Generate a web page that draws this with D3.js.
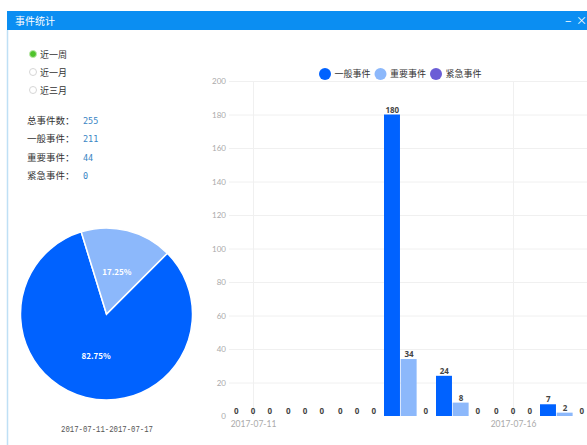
<!DOCTYPE html>
<html lang="zh-CN">
<head>
<meta charset="UTF-8">
<script src="https://d3js.org/d3.v7.min.js"></script>
<style>
  body { margin: 0; background: #fff; }
  svg { display: block; font-family: "Noto Sans CJK SC", "Noto Sans", sans-serif; }
</style>
</head>
<body>
<svg id="chart" width="587" height="445"></svg>
<script>
  const days = ['2017-07-11', '2017-07-12', '2017-07-13', '2017-07-14', '2017-07-15', '2017-07-16', '2017-07-17'];
  const seriesNames = ['一般事件', '重要事件', '紧急事件'];
  const general = [0, 0, 0, 180, 24, 0, 7];
  const important = [0, 0, 0, 34, 8, 0, 2];
  const urgent = [0, 0, 0, 0, 0, 0, 0];
  const colors = ['#0062ff', '#8cb8fb', '#6b5ed6'];
  const yTicks = [0, 20, 40, 60, 80, 100, 120, 140, 160, 180, 200];
  const xTickDays = ['2017-07-11', '2017-07-16'];
  const ranges = ['近一周', '近一月', '近三月'];
  const statLabels = ['总事件数：', '一般事件：', '重要事件：', '紧急事件：'];
  const statValues = [255, 211, 44, 0];
  const pieLabels = ['一般事件', '重要事件'];
  const pieValues = [211, 44];

  const svg = d3.select('#chart');
  const parse = d3.timeParse('%Y-%m-%d');

  // window frame
  svg.append('rect').attr('x', 7).attr('y', 11).attr('width', 580).attr('height', 19).attr('fill', '#0b8ef2');
  svg.append('line').attr('x1', 7.5).attr('x2', 7.5).attr('y1', 30).attr('y2', 445)
    .attr('stroke', '#bfe0f5').attr('stroke-width', 1.5);
  svg.append('text').attr('x', 15).attr('y', 24.5).attr('fill', '#fff').style('font-size', '10px').text('事件统计');
  svg.append('text').attr('x', 565).attr('y', 25).attr('fill', '#fff').style('font-size', '12px').text('–');
  svg.append('text').attr('x', 576).attr('y', 25).attr('fill', '#fff').style('font-size', '11px').text('×');

  // range radios
  const radio = svg.append('g').selectAll('g').data(ranges).enter().append('g')
    .attr('transform', (d, i) => `translate(33,${54 + i * 18})`);
  radio.append('circle').attr('r', 3.5)
    .attr('fill', (d, i) => i === 0 ? '#4fc32c' : '#fff')
    .attr('stroke', (d, i) => i === 0 ? '#bde8ad' : '#d6d6d6');
  radio.append('text').attr('x', 7).attr('y', 3.5).attr('fill', '#333').style('font-size', '9px').text(d => d);

  // stats
  const stat = svg.append('g').selectAll('g').data(statLabels).enter().append('g')
    .attr('transform', (d, i) => `translate(27,${124 + i * 18.3})`);
  stat.append('text').attr('fill', '#333').style('font-size', '9.5px').text(d => d);
  stat.append('text').attr('x', 56).attr('fill', '#3a86c4').style('font-size', '8.5px')
    .style('font-family', '"DejaVu Sans Mono", monospace').text((d, i) => statValues[i]);

  // pie
  const radius = 86;
  const pieG = svg.append('g').attr('transform', 'translate(106.5,314)');
  const pie = d3.pie().sort(null).value(d => d).startAngle(Math.PI / 4).endAngle(Math.PI / 4 + 2 * Math.PI);
  const arc = d3.arc().innerRadius(0).outerRadius(radius);
  const total = d3.sum(pieValues);
  const arcs = pie(pieValues);
  pieG.selectAll('path').data(arcs).enter().append('path')
    .attr('d', arc).attr('fill', (d, i) => colors[i])
    .attr('stroke', '#fff').attr('stroke-width', 1.5);
  pieG.selectAll('text').data(arcs).enter().append('text')
    .attr('transform', d => `translate(${arc.centroid(d)})`)
    .attr('dy', '0.35em').attr('text-anchor', 'middle').attr('fill', '#fff')
    .style('font-size', '8px').style('font-weight', 'bold')
    .text(d => (d.value / total * 100).toFixed(2) + '%');
  svg.append('text').attr('x', 61).attr('y', 432).attr('fill', '#555')
    .attr('textLength', 92).attr('lengthAdjust', 'spacingAndGlyphs')
    .style('font-size', '9px').style('font-family', '"Liberation Mono", monospace')
    .text(days[0] + '-' + days[days.length - 1]);

  // bar chart
  const x = d3.scaleTime()
    .domain([d3.timeHour.offset(parse(days[0]), -12), d3.timeHour.offset(parse(days[days.length - 1]), 12)])
    .range([227, 591]);
  const y = d3.scaleLinear().domain([0, 200]).range([416, 81]);
  const inner = d3.scaleBand().domain(seriesNames).range([-25, 25]);

  const grid = svg.append('g');
  grid.selectAll('.h').data(yTicks.filter(d => d > 0)).enter().append('line')
    .attr('x1', 229).attr('x2', 587).attr('y1', d => y(d) + 0.5).attr('y2', d => y(d) + 0.5)
    .attr('stroke', '#f0f0f0');
  grid.selectAll('.v').data(xTickDays).enter().append('line')
    .attr('x1', d => Math.round(x(parse(d))) + 0.5).attr('x2', d => Math.round(x(parse(d))) + 0.5)
    .attr('y1', 81).attr('y2', 416).attr('stroke', '#f0f0f0');

  const yAxis = svg.append('g').attr('transform', 'translate(226,0)')
    .call(d3.axisLeft(y).tickValues(yTicks).tickSize(0).tickPadding(0));
  yAxis.select('.domain').remove();
  yAxis.selectAll('text').attr('fill', '#aaa').style('font-size', '8px').style('font-family', 'Lato, sans-serif');

  const xAxis = svg.append('g').attr('transform', 'translate(0,419)')
    .call(d3.axisBottom(x).tickValues(xTickDays.map(parse)).tickFormat(d3.timeFormat('%Y-%m-%d')).tickSize(0).tickPadding(2));
  xAxis.select('.domain').remove();
  xAxis.selectAll('text').attr('fill', '#aaa').style('font-size', '8.5px').style('font-family', 'Lato, sans-serif');

  const seriesData = [general, important, urgent];
  seriesData.forEach((values, s) => {
    const g = svg.append('g');
    const rows = values.map((v, i) => ({ day: parse(days[i]), v: v }));
    g.selectAll('rect').data(rows).enter().append('rect')
      .attr('x', d => x(d.day) + inner(seriesNames[s]))
      .attr('width', inner.bandwidth() - 0.7)
      .attr('y', d => y(d.v))
      .attr('height', d => y(0) - y(d.v))
      .attr('fill', colors[s]);
    g.selectAll('text').data(rows).enter().append('text')
      .attr('x', d => x(d.day) + inner(seriesNames[s]) + inner.bandwidth() / 2)
      .attr('y', d => y(d.v) - 2)
      .attr('text-anchor', 'middle').attr('fill', '#444')
      .style('font-size', '8px').style('font-weight', 'bold').style('font-family', '"Open Sans", sans-serif')
      .text(d => d.v);
  });

  // legend
  const legend = svg.append('g').selectAll('g').data(seriesNames).enter().append('g')
    .attr('transform', (d, i) => `translate(${325 + i * 55.5},74)`);
  legend.append('circle').attr('r', 6).attr('fill', (d, i) => colors[i]);
  legend.append('text').attr('x', 9.5).attr('y', 3.4).attr('fill', '#333').style('font-size', '9px').text(d => d);
</script>
</body>
</html>
